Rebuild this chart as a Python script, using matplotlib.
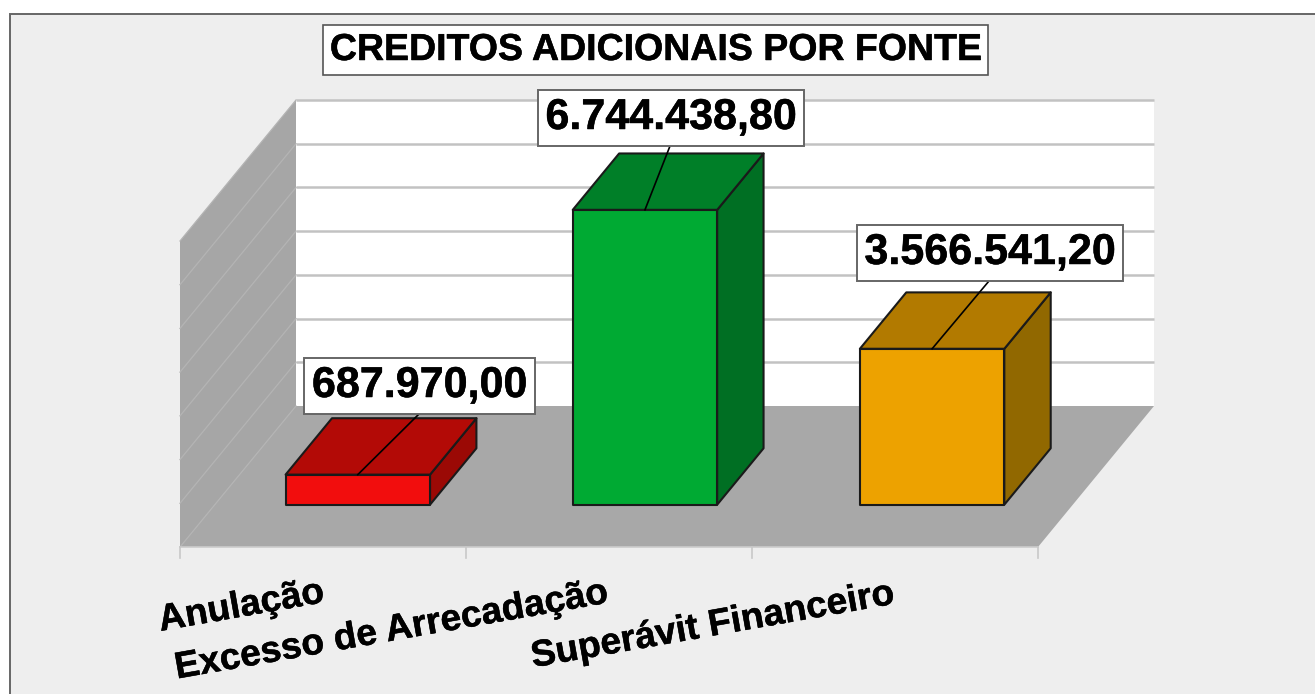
import matplotlib
matplotlib.use("Agg")
import matplotlib.pyplot as plt
import matplotlib.patheffects as pe
from matplotlib.patches import Polygon, Rectangle

plt.rcParams['font.family'] = ['Liberation Sans', 'DejaVu Sans']

title = "CREDITOS ADICIONAIS POR FONTE"
categories = ["Anulação", "Excesso de Arrecadação", "Superávit Financeiro"]
values = [687970.00, 6744438.80, 3566541.20]
value_labels = ["687.970,00", "6.744.438,80", "3.566.541,20"]
y_ticks = [0, 1000000, 2000000, 3000000, 4000000, 5000000, 6000000, 7000000]

front_colors = ["#f20d0d", "#00aa33", "#eda200"]
top_colors = ["#b30a06", "#007f28", "#b27a00"]
side_colors = ["#9b0905", "#006f23", "#916800"]

# pixel layout of the 3d box
X0, Y0 = 180, 547
CAT_W = 286
DX, DY = 116, 141
PX_PER_VAL = 306 / 7000000
BAR_W = 0.505
BAR_STEP = 1.004
D1, D2 = 0.30, 0.70

bold_edge = [pe.withStroke(linewidth=0.35, foreground="black")]


def proj(cat, val, depth):
    # category position, value, depth (0 front, 1 back) -> pixel
    return (X0 + cat * CAT_W + depth * DX, Y0 - val * PX_PER_VAL - depth * DY)


fig = plt.figure(figsize=(13.15, 6.94), dpi=100, facecolor="white")
ax = fig.add_axes([0, 0, 1, 1])
ax.set_xlim(0, 1315)
ax.set_ylim(694, 0)
ax.axis("off")

# outer chart area
ax.add_patch(Rectangle((10, 14), 1320, 700, fc="#eeeeee", ec="#666666", lw=1.4, zorder=0))

n = len(categories)
top = y_ticks[-1]

# walls and floor
ax.add_patch(Polygon([proj(0, 0, 1), proj(n, 0, 1), proj(n, top, 1), proj(0, top, 1)],
                     fc="white", ec="none", zorder=1))
ax.add_patch(Polygon([proj(0, 0, 0), proj(0, 0, 1), proj(0, top, 1), proj(0, top, 0)],
                     fc="#a6a6a6", ec="none", zorder=1))
ax.add_patch(Polygon([proj(0, 0, 0), proj(n, 0, 0), proj(n, 0, 1), proj(0, 0, 1)],
                     fc="#a8a8a8", ec="none", zorder=1))

# gridlines, back wall then side wall
for v in y_ticks:
    a, b, c = proj(0, v, 0), proj(0, v, 1), proj(n, v, 1)
    if v > 0:
        ax.plot([b[0], c[0]], [b[1], c[1]], color="#c2c2c2", lw=1.8, zorder=2, solid_capstyle="butt")
    ax.plot([a[0], b[0]], [a[1], b[1]], color="#b4b4b4", lw=0.9, zorder=2)

# category axis with ticks
a, b = proj(0, 0, 0), proj(n, 0, 0)
ax.plot([a[0], b[0]], [a[1], b[1]], color="#cccccc", lw=1.2, zorder=2)
for i in range(n + 1):
    p = proj(i, 0, 0)
    ax.plot([p[0], p[0]], [p[1], p[1] + 11], color="#c8c8c8", lw=1.2, zorder=2)

# bars
centers = []
for i, v in enumerate(values):
    mid = 0.5 + i * BAR_STEP
    centers.append(mid)
    l = mid - BAR_W / 2
    r = mid + BAR_W / 2
    front = [proj(l, 0, D1), proj(r, 0, D1), proj(r, v, D1), proj(l, v, D1)]
    tp = [proj(l, v, D1), proj(r, v, D1), proj(r, v, D2), proj(l, v, D2)]
    side = [proj(r, 0, D1), proj(r, 0, D2), proj(r, v, D2), proj(r, v, D1)]
    ax.add_patch(Polygon(side, fc=side_colors[i], ec="#1a1a1a", lw=1.5, joinstyle="round", zorder=3))
    ax.add_patch(Polygon(tp, fc=top_colors[i], ec="#1a1a1a", lw=1.5, joinstyle="round", zorder=3))
    ax.add_patch(Polygon(front, fc=front_colors[i], ec="#1a1a1a", lw=1.5, joinstyle="round", zorder=4))

# value labels with leader lines
label_x = [419.5, 671, 990]
label_y = [386, 118, 253]
leader_x = [419, 670, 989]
for i, v in enumerate(values):
    start = proj(centers[i], v, D1)
    ax.plot([start[0], leader_x[i]], [start[1], label_y[i] + 28], color="black", lw=1.2, zorder=5)
    ax.text(label_x[i], label_y[i], value_labels[i], fontsize=31, fontweight="bold",
            ha="center", va="center", color="black", zorder=6, path_effects=bold_edge,
            bbox=dict(boxstyle="square,pad=0.175", fc="white", ec="#666666", lw=1.4))

ax.text(655.5, 50, title, fontsize=27, fontweight="bold", ha="center", va="center", zorder=6,
        path_effects=bold_edge,
        bbox=dict(boxstyle="square,pad=0.19", fc="white", ec="#555555", lw=1.2))

# slanted category labels
cat_x = [241.5, 392, 713]
cat_y = [607, 631, 626]
for i, name in enumerate(categories):
    ax.text(cat_x[i], cat_y[i], name, fontsize=26.8, fontweight="bold", rotation=10,
            rotation_mode="anchor", ha="center", va="center", color="black", zorder=6,
            path_effects=bold_edge)

fig.savefig("out.png", dpi=100)
